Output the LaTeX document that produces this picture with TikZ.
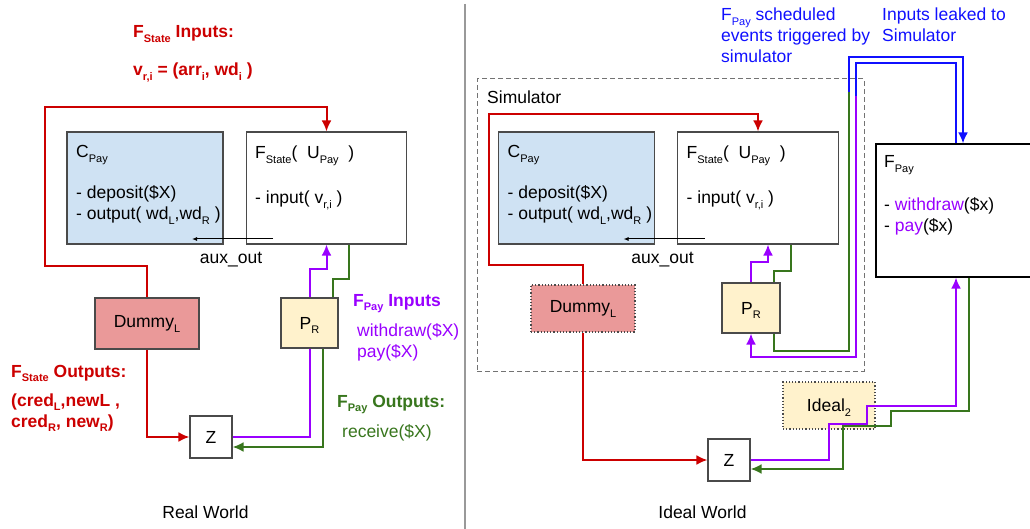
\documentclass[tikz,border=0pt]{standalone}
\usepackage{fontspec}
\setmainfont{Liberation Sans}
\usetikzlibrary{calc,positioning,arrows.meta,shapes}
\definecolor{fred}{HTML}{CC0000}
\definecolor{fpurp}{HTML}{9900FF}
\definecolor{fgreen}{HTML}{38761D}
\definecolor{fblue}{HTML}{1010FF}
\definecolor{cpayblue}{HTML}{CFE2F3}
\definecolor{dumred}{HTML}{EA9999}
\definecolor{pryel}{HTML}{FFF2CC}
\definecolor{boxgray}{HTML}{4A4A4A}
\newcommand{\bigf}{\fontsize{17.5}{21}\selectfont}
\newcommand{\sbs}[1]{\raisebox{-4.5pt}[0pt][0pt]{\fontsize{11}{12}\selectfont #1}}

\begin{document}
\begin{tikzpicture}[x=1pt, y=-1pt, font=\bigf,
  lbl/.style={inner sep=0pt, align=left, anchor=base west},
  bold/.style={font=\bigf\bfseries},
  wire/.style={line width=2pt},
  tip/.style={-{Latex[length=11pt,width=10pt]}}]
\tikzstyle{box}=[draw=boxgray, line width=1.2pt, inner sep=0pt]%
\tikzstyle{dotbox}=[box, dash pattern=on 1.2pt off 2pt]
\useasboundingbox (0,0) rectangle (1030,529);
\draw[gray!80, line width=1.5pt] (465,4) -- (465,529);
\node[draw=gray!90!black, dash pattern=on 5pt off 3pt, line width=1pt, minimum width=387pt, minimum height=292pt] (sim) at (670.5,225) {};
\node[lbl] (simlbl) at (487,104) {Simulator};
% protocol boxes, same in both worlds (multi-line texts sit on their last baseline)
\foreach \w/\dx in {L/0,R/431.5}{
\node[box, fill=cpayblue, minimum width=156pt, minimum height=112pt] (cpay\w) at (145+\dx,188) {};
\node[box, fill=white, minimum width=160.5pt, minimum height=112pt] (fst\w) at (326.5+\dx,188) {};
\node[lbl] (txtC\w) at (76+\dx,220) {C\sbs{Pay}\\[20pt]- deposit(\$X)\\- output( wd\sbs{L},wd\sbs{R} )};
\node[lbl] (txtF\w) at (255+\dx,204) {F\sbs{State}(\ \ U\sbs{Pay}\ \ )\\[24pt]- input( v\sbs{r,i} )};
\coordinate (aux\w s) at (273+\dx,239);
\coordinate (aux\w e) at (192+\dx,239);
\draw[line width=1pt, -{Latex[length=5pt,width=4pt]}] (aux\w s) -- (aux\w e);
\node[lbl, anchor=base] (aux\w lbl) at (231+\dx,264) {aux\_out};
}
% real world
\node[box, fill=dumred, minimum width=104pt, minimum height=51pt] (dumL) at (147,323.5) {Dummy\sbs{L}};
\node[box, fill=pryel, minimum width=57pt, minimum height=50pt] (prL) at (309.5,323) {P\sbs{R}};
\node[box, fill=white, minimum size=42pt] (zL) at (211,437) {Z};
\draw[wire, fred, tip] (dumL.north) -- ++(0,-31) -| (45,107) -| (fstL.north);
\draw[wire, fred, tip] (dumL.south) |- (zL.west);
\draw[wire, fpurp] (zL.east) -| (prL.south);
\draw[wire, fpurp, tip] (prL.north) -- ++(0,-28) -| (fstL.south);
\draw[wire, fgreen] ([xshift=22.5pt]fstL.south) -- ++(0,34) -| ([xshift=23.5pt]prL.north);
\draw[wire, fgreen, tip] ([xshift=13.5pt]prL.south) |- ([yshift=-10pt]zL.east);
\node[lbl, bold, text=fred] (fsin) at (133,38) {F\sbs{State} Inputs:};
\node[lbl, bold, text=fred] (vri) at (133,76) {v\sbs{r,i} = (arr\sbs{i}, wd\sbs{i} )};
\node[lbl, bold, text=fred] (fsout) at (11,377) {F\sbs{State} Outputs:};
\node[lbl, bold, text=fred] (credtxt) at (11,427) {(cred\sbs{L},newL ,\\cred\sbs{R}, new\sbs{R})};
\node[lbl, bold, text=fpurp] (fpin) at (353,306) {F\sbs{Pay} Inputs};
\node[lbl, text=fpurp] (fpinlist) at (357,357) {withdraw(\$X)\\pay(\$X)};
\node[lbl, bold, text=fgreen] (fpout) at (337,407) {F\sbs{Pay} Outputs:};
\node[lbl, text=fgreen] (fpoutlist) at (342,437) {receive(\$X)};
\node[lbl, anchor=base] (realw) at (205.5,518) {Real World};
% ideal world
\node[dotbox, fill=dumred, minimum width=104pt, minimum height=47pt] (dumR) at (583,308.5) {Dummy\sbs{L}};
\node[box, fill=pryel, minimum width=58pt, minimum height=50pt] (prR) at (751,308) {P\sbs{R}};
\node[box, fill=white, minimum size=42pt] (zR) at (729,460) {Z};
\node[dotbox, fill=pryel, minimum width=92pt, minimum height=47pt] (ideal) at (829,405.5) {Ideal\sbs{2}};
\node[box, draw=black, fill=white, minimum width=164pt, minimum height=133pt] (fpay) at (958,210.5) {};
\node[lbl] (fpaytxt) at (884,232) {F\sbs{Pay}\\[22pt]- \textcolor{fpurp}{withdraw}(\$x)\\- \textcolor{fpurp}{pay}(\$x)};
\coordinate (gturn) at (849,92);
\coordinate (pturn) at (856,96);
\draw[wire, fred, tip] (dumR.north) -- ++(0,-19) -| (489,114) -| (fstR.north);
\draw[wire, fred, tip] (dumR.south) |- (zR.west);
\draw[wire, fpurp, tip] (prR.north) -- ++(0,-20) -| ([xshift=10pt]fstR.south);
\draw[wire, fgreen] ([xshift=33pt]fstR.south) -- ++(0,26) -| ([xshift=23pt]prR.north);
\draw[wire, fgreen] ([xshift=23pt]prR.south) |- (849,351) -- (gturn);
\draw[wire, fblue, tip] (gturn) -- (849,57) -| ([xshift=5pt]fpay.north);
\draw[wire, fblue] ([xshift=-2pt]fpay.north) |- (856,63) -- (pturn);
\draw[wire, fpurp, tip] (pturn) |- (751,357) -- (prR.south);
\draw[wire, fpurp, tip] (zR.east) -| (829,424) -| (867,406) -| ([xshift=-2pt]fpay.south);
\draw[wire, fgreen, tip] ([xshift=11pt]fpay.south) |- (891,411) |- (843,426) |- ([yshift=-9pt]zR.east);
\node[lbl, text=fblue] (schedtxt) at (721,63) {F\sbs{Pay} scheduled\\events triggered by\\simulator};
\node[lbl, text=fblue] (leaktxt) at (882,42) {Inputs leaked to\\Simulator};
\node[lbl, anchor=base] (idealw) at (702.5,518) {Ideal World};
\end{tikzpicture}
\end{document}
